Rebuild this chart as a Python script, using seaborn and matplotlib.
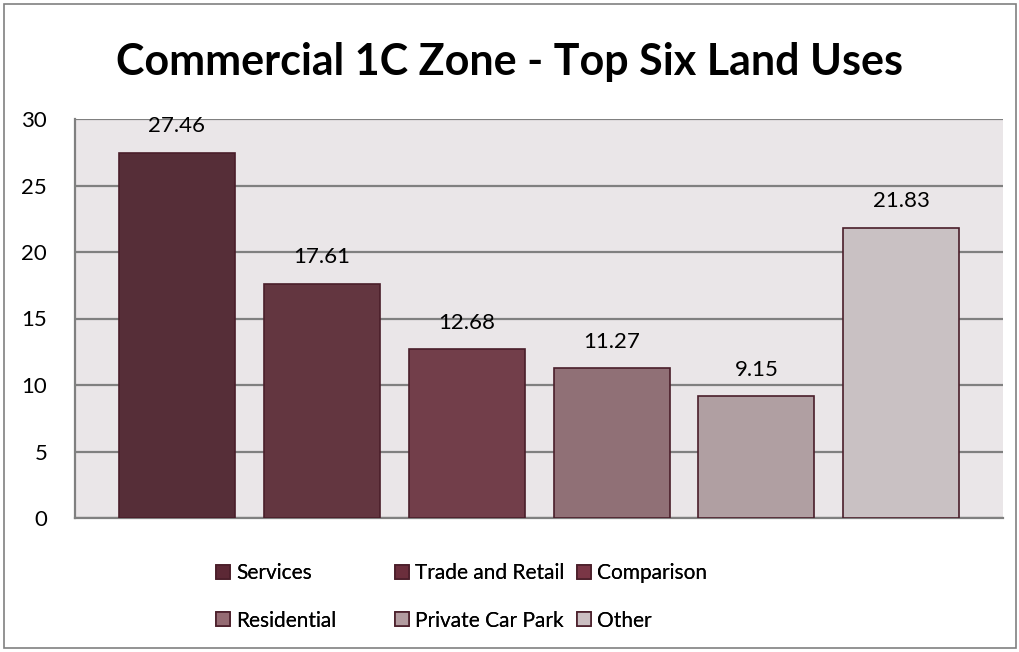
import matplotlib
matplotlib.use("Agg")
import matplotlib.pyplot as plt
import seaborn as sns
import pandas as pd
from matplotlib.patches import Rectangle

# Data
categories = ["Services", "Trade and Retail", "Comparison",
              "Residential", "Private Car Park", "Other"]
values = [27.46, 17.61, 12.68, 11.27, 9.15, 21.83]
colors = ["#5C2835", "#6B2E3C", "#7A3646", "#956B73", "#B39CA0", "#CBBFC2"]

df = pd.DataFrame({"use": categories, "pct": values})

sns.set_theme(style="white")
plt.rcParams["font.family"] = ["Lato", "DejaVu Sans"]
plt.rcParams["text.color"] = "black"

W, H = 1020, 652
fig = plt.figure(figsize=(W / 100, H / 100), dpi=100)
ax = fig.add_axes([75 / W, 1 - 518 / H, 928 / W, 399 / H])

sns.barplot(data=df, x="use", y="pct", hue="use", palette=colors,
            dodge=False, width=0.8, edgecolor="#4A1E2A", linewidth=1.2,
            legend=False, ax=ax, zorder=3)

ax.set_facecolor("#EAE6E8")
ax.set_ylim(0, 30)
ax.set_yticks(range(0, 31, 5))
ax.set_xlim(-0.7, 5.7)
ax.set_xticks([])
ax.set_xlabel("")
ax.set_ylabel("")
ax.grid(axis="y", color="#808080", linewidth=1.6, zorder=0)
ax.set_axisbelow(True)
for side in ["top", "right"]:
    ax.spines[side].set_visible(False)
for side in ["left", "bottom"]:
    ax.spines[side].set_color("#808080")
    ax.spines[side].set_linewidth(1.6)
ax.tick_params(axis="y", length=0, pad=20, labelsize=16, labelcolor="black")

# Value labels
for i, v in enumerate(values):
    ax.annotate(f"{v:.2f}", (i, v), xytext=(0, 19), textcoords="offset points",
                ha="center", va="center", fontsize=16, color="black")

# Legend: three columns placed like the original
handles = [Rectangle((0, 0), 1, 1, facecolor=c, edgecolor="#4A1E2A", linewidth=1.2)
           for c in colors]
col_x = [216, 395, 577]
for j, x in enumerate(col_x):
    idx = [j, j + 3]
    leg = fig.legend([handles[i] for i in idx], [categories[i] for i in idx],
                     loc="center left", bbox_to_anchor=(x / W, 1 - 597 / H),
                     frameon=False, fontsize=15, borderpad=0, borderaxespad=0,
                     handlelength=0.68, handleheight=0.68, handletextpad=0.3,
                     labelspacing=1.3, labelcolor="black")
    fig.add_artist(leg)

fig.text(0.5, 1 - 62 / H, "Commercial 1C Zone - Top Six Land Uses",
         ha="center", va="center", fontsize=31, fontweight="bold", color="black")

# Outer chart border
fig.add_artist(Rectangle((4 / W, 4 / H), 1012 / W, 644 / H,
                         transform=fig.transFigure, fill=False,
                         edgecolor="#808080", linewidth=1.2))

fig.savefig("out.png", dpi=100, facecolor="white")
